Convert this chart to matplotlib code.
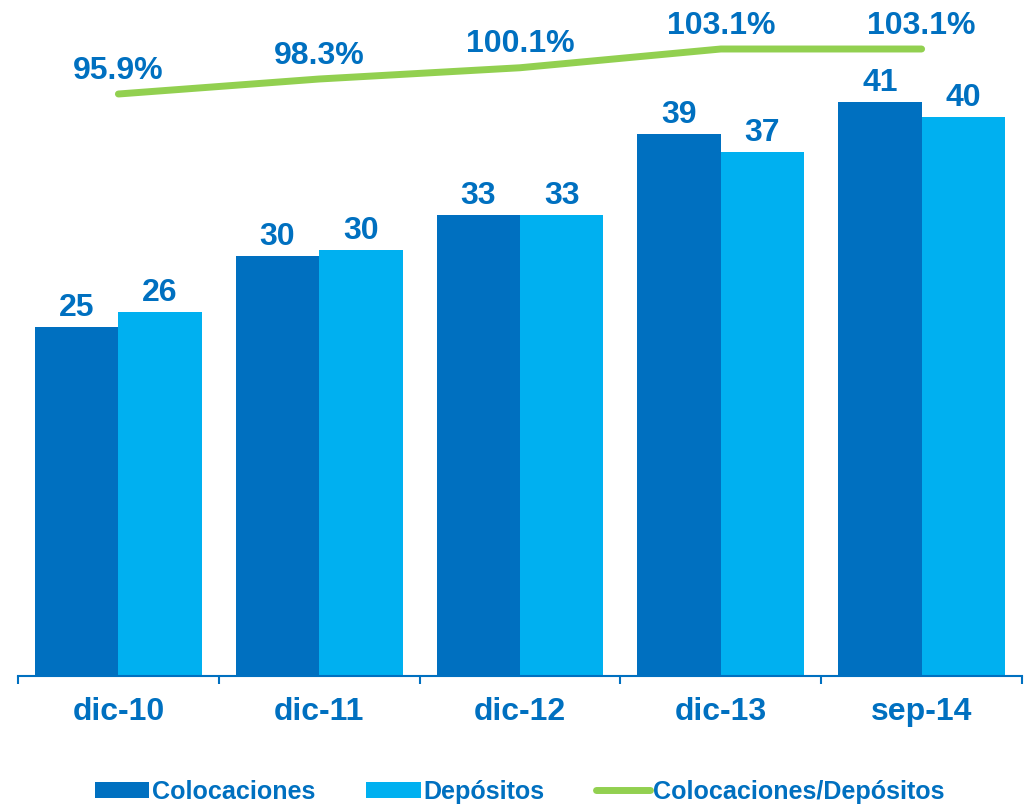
import matplotlib.pyplot as plt
import numpy as np

plt.rcParams['font.family'] = ['Liberation Sans', 'DejaVu Sans']

# data
periods = ['dic-10', 'dic-11', 'dic-12', 'dic-13', 'sep-14']
colocaciones = [24.9, 30.0, 32.9, 38.7, 41.0]
depositos = [26.0, 30.4, 32.9, 37.4, 39.9]
ratio = [95.9, 98.3, 100.1, 103.1, 103.1]

DARK = '#0070C0'
LIGHT = '#00B0F0'
GREEN = '#92D050'
TEXT = '#0070C0'
FS = 23


def add_bar_labels(ax, rects, offset=3):
    for rect in rects:
        height = rect.get_height()
        ax.annotate('{:.0f}'.format(height),
                    xy=(rect.get_x() + rect.get_width() / 2, height),
                    xytext=(0, offset), textcoords='offset points',
                    ha='center', va='bottom', fontsize=FS,
                    fontweight='bold', color=TEXT)


fig = plt.figure(figsize=(10.29, 8.06), dpi=100)
ax = fig.add_axes([18 / 1029, 130 / 806, 1004 / 1029, 676 / 806])

x = np.arange(len(periods))
width = 0.415
bars1 = ax.bar(x - width / 2, colocaciones, width, color=DARK, label='Colocaciones')
bars2 = ax.bar(x + width / 2, depositos, width, color=LIGHT, label='Depósitos')
add_bar_labels(ax, bars1)
add_bar_labels(ax, bars2)

ax.set_xlim(-0.5, len(periods) - 0.5)
ax.set_ylim(0, 676 / 14)
ax.set_yticks([])
for side in ['top', 'right', 'left']:
    ax.spines[side].set_visible(False)
ax.spines['bottom'].set_color(DARK)
ax.spines['bottom'].set_linewidth(1.5)

ax.set_xticks(x)
ax.set_xticklabels(periods, fontsize=FS, fontweight='bold', color=TEXT)
ax.tick_params(axis='x', which='major', length=0, pad=15)
ax.set_xticks(np.arange(-0.5, len(periods)), minor=True)
ax.tick_params(axis='x', which='minor', length=6, width=1.5, color=DARK, direction='out')

ax2 = ax.twinx()
ax2.set_ylim(2.78, 2.78 + 676 / 6.25)
ax2.set_yticks([])
for side in ['top', 'right', 'left', 'bottom']:
    ax2.spines[side].set_visible(False)
line, = ax2.plot(x, ratio, color=GREEN, linewidth=5, solid_capstyle='round',
                 label='Colocaciones/Depósitos')
for xi, r in zip(x, ratio):
    ax2.annotate('{:.1f}%'.format(r), xy=(xi, r), xytext=(0, 6),
                 textcoords='offset points', ha='center', va='bottom',
                 fontsize=FS, fontweight='bold', color=TEXT)

handles = [bars1, bars2, line]
leg = fig.legend(handles, [h.get_label() for h in handles], loc='center',
                 bbox_to_anchor=(0.505, 14 / 806), ncol=3, frameon=False,
                 handlelength=2.15, handleheight=0.64,
                 handletextpad=0.12, columnspacing=2.05,
                 prop={'weight': 'bold', 'size': 18.1})
for t in leg.get_texts():
    t.set_color(TEXT)

fig.savefig('out.png', dpi=100)
